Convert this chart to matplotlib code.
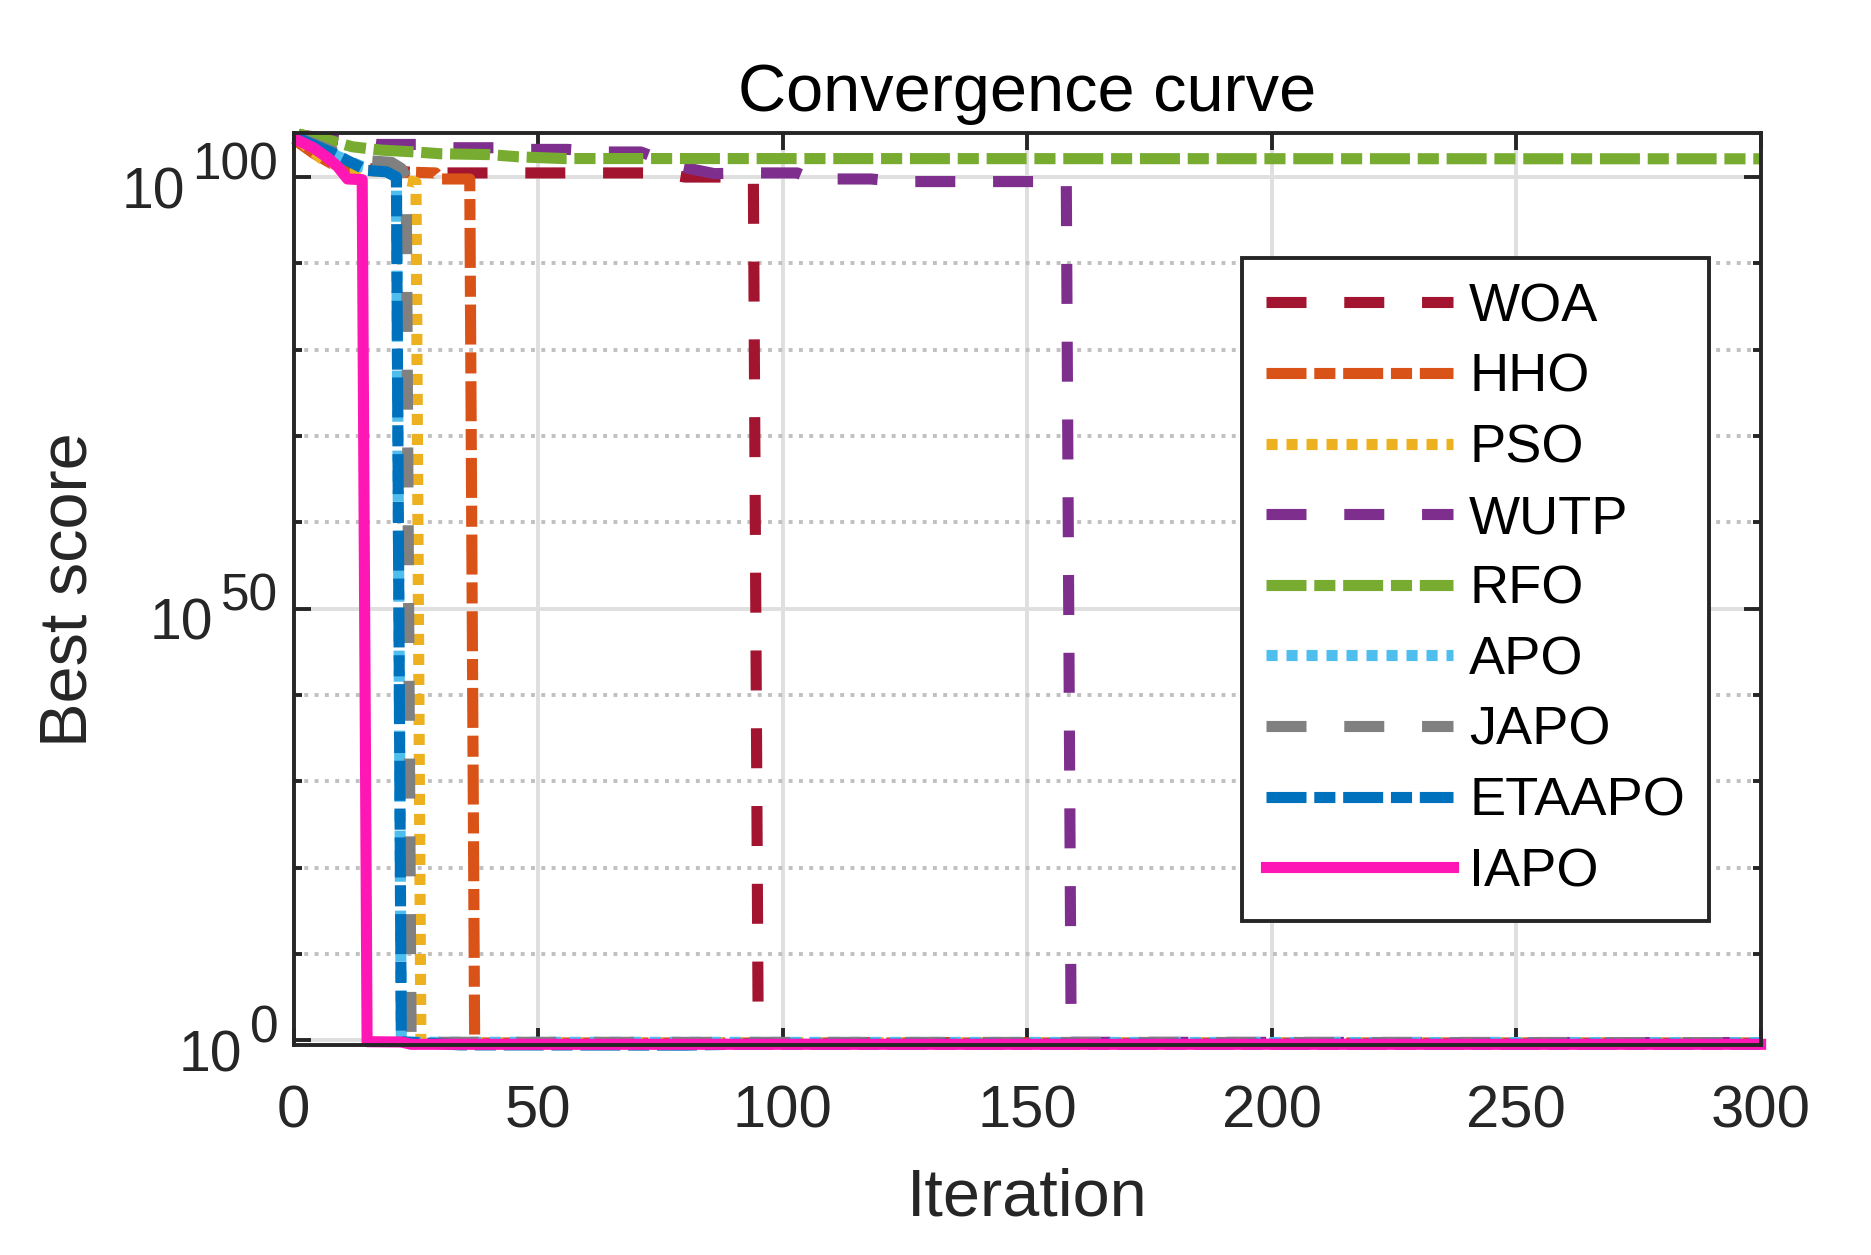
import matplotlib
matplotlib.use("Agg")
import matplotlib.pyplot as plt
from matplotlib.ticker import FixedLocator, NullFormatter

plt.rcParams['font.family'] = ['Liberation Sans', 'DejaVu Sans']

# best score per iteration (breakpoints only)
iters_woa = [1, 3, 6, 10, 15, 22, 30, 75, 80, 90, 94, 95, 300]
woa = [2e104, 3e103, 3e102, 6e101, 1e101, 4e100, 3e100, 3e100, 1e100, 1e100, 6e99, 0.55, 0.5]

iters_hho = [1, 4, 8, 14, 22, 29, 30, 36, 37, 300]
hho = [1e104, 6e102, 3e101, 6e100, 4e100, 3e100, 6e99, 6e99, 0.5, 0.5]

iters_pso = [1, 6, 11, 16, 20, 23, 25, 26, 300]
pso = [2e104, 1e102, 8e100, 6e100, 3e100, 4e99, 2.5e99, 0.55, 0.5]

iters_wutp = [1, 10, 17, 25, 32, 41, 48, 56, 64, 71, 79, 86, 94, 103, 106, 118, 124, 158, 159, 300]
wutp = [8e104, 1.6e104, 6e103, 6e103, 2.5e103, 2.5e103, 1.6e103, 1.6e103, 8e102, 8e102,
        1.6e101, 2.5e100, 3e100, 3e100, 6e99, 6e99, 3e99, 3e99, 0.6, 0.55]

iters_rfo = [1, 3, 7, 12, 18, 25, 30, 40, 46, 55, 300]
rfo = [1e105, 5e104, 2e104, 3.2e103, 1.3e103, 8e102, 5e102, 4e102, 2.2e102, 1.4e102, 1.3e102]

iters_apo = [1, 5, 9, 14, 20, 21, 22, 300]
apo = [4e104, 3e103, 2.5e102, 1.6e101, 3e100, 1e100, 0.6, 0.55]

iters_japo = [1, 8, 12, 15, 20, 22, 23, 24, 300]
japo = [4e104, 1e103, 1.6e102, 8e101, 5e101, 1e101, 1e100, 0.6, 0.55]

iters_etaapo = [1, 8, 11, 15, 19, 21, 22, 34, 80, 90, 300]
etaapo = [3e104, 6e102, 8e101, 6e100, 4e100, 1e100, 0.7, 0.3, 0.28, 0.35, 0.35]

iters_iapo = [1, 4, 7, 9, 11, 14, 15, 22, 24, 300]
iapo = [1.6e104, 2.5e103, 1.6e102, 1.6e101, 6e99, 5e99, 0.7, 0.65, 0.35, 0.35]

x_ticks = [0, 50, 100, 150, 200, 250, 300]
y_exponents = [0, 50, 100]

dash = (3.6, 3.4)
dashdot = (3.6, 0.7, 1.9, 0.7)
dot = (1.0, 0.8)

series = [
    ('WOA', iters_woa, woa, '#A2142F', dash),
    ('HHO', iters_hho, hho, '#D95319', dashdot),
    ('PSO', iters_pso, pso, '#EDB120', dot),
    ('WUTP', iters_wutp, wutp, '#7E2F8E', dash),
    ('RFO', iters_rfo, rfo, '#77AC30', dashdot),
    ('APO', iters_apo, apo, '#4DBEEE', dot),
    ('JAPO', iters_japo, japo, '#808080', dash),
    ('ETAAPO', iters_etaapo, etaapo, '#0072BD', dashdot),
    ('IAPO', iters_iapo, iapo, '#FF17B5', None),
]

ink = '#262626'

fig = plt.figure(figsize=(9.355, 6.275), dpi=200)
ax = fig.add_axes([0.157, 0.167, 0.784, 0.727])

for name, x, y, col, ds in series:
    line, = ax.plot(x, y, color=col, lw=4.0, label=name, clip_on=False,
                    solid_joinstyle='round', dash_capstyle='butt')
    if ds is not None:
        line.set_dashes(ds)

ax.set_yscale('log')
ax.set_xlim(0, 300)
ax.set_ylim(0.26, 10**105.1)
ax.set_xticks(x_ticks)
y_major = [10.0**e for e in y_exponents]
ax.set_yticks(y_major)
ax.yaxis.set_major_formatter(NullFormatter())
ax.yaxis.set_minor_locator(FixedLocator([10.0**k for k in range(10, 100, 10) if k != 50]))
ax.yaxis.set_minor_formatter(NullFormatter())

ax.grid(True, which='major', color='#DFDFDF', lw=1.4, ls='-')
ax.grid(True, which='minor', axis='y', color='#C0C0C0', lw=1.4, ls=':')
ax.set_axisbelow(True)

ax.tick_params(which='both', direction='in', top=True, right=True,
               color=ink, width=1.4, labelcolor=ink, labelsize=21.5)
ax.tick_params(which='major', length=6)
ax.tick_params(axis='x', which='major', pad=14)
ax.tick_params(which='minor', length=3)
for s in ax.spines.values():
    s.set_linewidth(1.4)
    s.set_color(ink)

# MATLAB style 10^n labels: base sits below the tick, exponent beside it
for v, e in zip(y_major, y_exponents):
    sup = ax.annotate(str(e), xy=(0, v), xycoords=('axes fraction', 'data'),
                      xytext=(-5.6, -0.7), textcoords='offset points',
                      ha='right', va='baseline', fontsize=18.5, color=ink,
                      annotation_clip=False)
    ax.annotate('10', xy=(0, v), xycoords=(sup, 'data'),
                xytext=(-2.8, -11.2), textcoords='offset points',
                ha='right', va='baseline', fontsize=20.5, color=ink,
                annotation_clip=False)

ax.set_title('Convergence curve', fontsize=24, color='black', pad=8)
ax.set_xlabel('Iteration', fontsize=24, color=ink, labelpad=10)
ax.set_ylabel('Best score', fontsize=24, color=ink)
ax.yaxis.set_label_coords(-0.132, 0.5)

leg = ax.legend(loc='upper right', bbox_to_anchor=(0.965, 0.863), fontsize=19.5,
                handlelength=3.45, handletextpad=0.3, labelspacing=0.38,
                borderpad=0.45, borderaxespad=0, fancybox=False, framealpha=1,
                edgecolor=ink)
leg.get_frame().set_linewidth(1.4)

fig.savefig('out.png', dpi=200)
